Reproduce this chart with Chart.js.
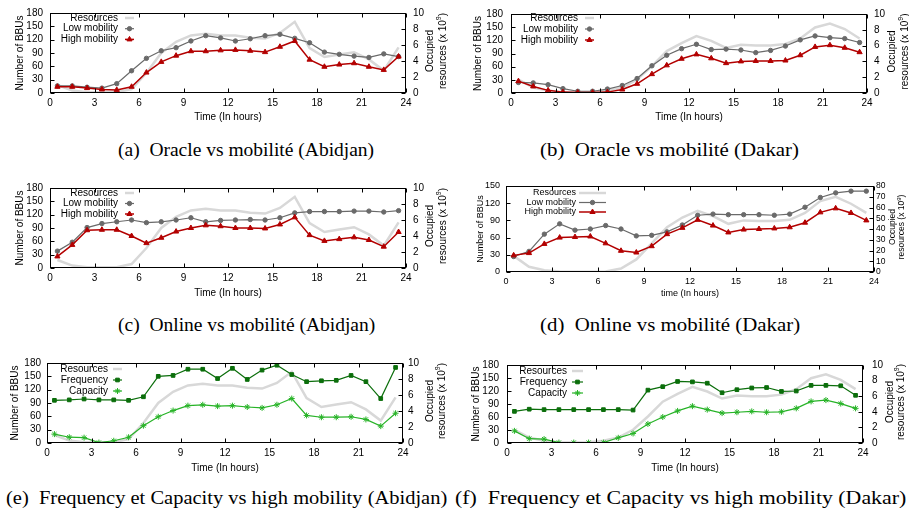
<!DOCTYPE html>
<html>
<head>
<meta charset="utf-8">
<script src="https://cdn.jsdelivr.net/npm/chart.js@4.4.1/dist/chart.umd.min.js"></script>
<style>
  body { margin: 0; width: 909px; height: 517px; background: #fff; overflow: hidden; position: relative; }
  canvas { position: absolute; }
  .cap { position: absolute; font-family: "Liberation Serif", "Times New Roman", serif; font-size: 19.5px; line-height: 20px; white-space: pre; color: #000; transform-origin: left center; }
</style>
</head>
<body>
<canvas id="ca"></canvas>
<canvas id="cb"></canvas>
<canvas id="cc"></canvas>
<canvas id="cd"></canvas>
<canvas id="ce"></canvas>
<canvas id="cf"></canvas>
<div class="cap" style="left:118px; top:140px;">(a)  Oracle vs mobilité (Abidjan)</div>
<div class="cap" style="left:540px; top:140px; transform: scaleX(1.07);">(b)  Oracle vs mobilité (Dakar)</div>
<div class="cap" style="left:118px; top:315px;">(c)  Online vs mobilité (Abidjan)</div>
<div class="cap" style="left:540px; top:315px; transform: scaleX(1.07);">(d)  Online vs mobilité (Dakar)</div>
<div class="cap" style="left:6px; top:488px; transform: scaleX(1.05);">(e)  Frequency et Capacity vs high mobility (Abidjan)</div>
<div class="cap" style="left:455px; top:488px; transform: scaleX(1.12);">(f)  Frequency et Capacity vs high mobility (Dakar)</div>
<script>
// ---- data ----
const hours = [0.5, 1.5, 2.5, 3.5, 4.5, 5.5, 6.5, 7.5, 8.5, 9.5, 10.5, 11.5,
               12.5, 13.5, 14.5, 15.5, 16.5, 17.5, 18.5, 19.5, 20.5, 21.5, 22.5, 23.5];
const xTicks = [0, 3, 6, 9, 12, 15, 18, 21, 24];
const bbuTicks = [0, 30, 60, 90, 120, 150, 180];
const bbuTicksD = [0, 30, 60, 90, 120, 150];
const resTicks = [0, 2, 4, 6, 8, 10];
const resTicksD = [0, 10, 20, 30, 40, 50, 60, 70, 80];

// occupied resources (x 10^9)
const resAbidjan = [1.0, 0.3, 0.1, 0.1, 0.1, 0.5, 2.5, 5.0, 6.4, 7.2, 7.4, 7.2,
                    7.2, 6.9, 6.8, 7.5, 8.9, 5.6, 4.5, 4.8, 5.1, 4.2, 2.8, 5.7];
const resDakar = [1.7, 0.7, 0.3, 0.1, 0.05, 0.1, 0.3, 0.7, 1.7, 3.4, 5.3, 6.3,
                  7.2, 6.6, 5.7, 6.1, 6.0, 6.0, 6.2, 6.9, 8.3, 8.8, 8.1, 6.9];
const resDakarOnline = [15, 4.8, 1.6, 0.5, 0.3, 0.3, 0.5, 3.2, 11.7, 26.7, 41.6, 50.7,
                        57, 52, 44.8, 48, 47.5, 47.5, 48.5, 55, 66, 70, 63.5, 55];

// (a) oracle Abidjan
const lowOracleAbidjan = [16, 16, 13, 11, 21, 50, 78, 95, 102, 117, 129, 124,
                          117, 122, 129, 132, 123, 113, 92, 87, 83, 80, 88, 82];
const highOracleAbidjan = [14, 14, 11, 8, 7, 14, 46, 70, 84, 94, 94, 96,
                           97, 95, 92, 104, 117, 75, 59, 64, 67, 59, 52, 82];
// (b) oracle Dakar
const lowOracleDakar = [24, 23, 19, 10, 4, 4, 9, 17, 33, 62, 86, 101,
                        111, 99, 100, 98, 92, 97, 107, 121, 130, 126, 124, 115];
const highOracleDakar = [27, 15, 6, 2, 1, 1, 2, 8, 21, 43, 63, 78,
                         88, 79, 68, 72, 73, 73, 74, 86, 105, 109, 103, 93];
// (c) online Abidjan
const lowOnlineAbidjan = [38, 58, 91, 100, 104, 108, 102, 104, 108, 113, 104, 107,
                          108, 109, 108, 113, 124, 127, 127, 127, 128, 128, 126, 129];
const highOnlineAbidjan = [26, 52, 85, 86, 86, 72, 56, 68, 82, 90, 96, 94,
                           90, 90, 89, 98, 114, 74, 61, 65, 69, 63, 48, 81];
// (d) online Dakar
const lowOnlineDakar = [27, 36, 66, 84, 73, 75, 81, 75, 63, 64, 70, 82,
                        99, 101, 100, 100, 100, 99, 101, 113, 130, 138, 141, 141];
const highOnlineDakar = [29, 33, 49, 60, 61, 62, 50, 37, 34, 45, 66, 77,
                         91, 81, 69, 74, 75, 76, 78, 86, 104, 111, 103, 90];
// (e) frequency / capacity Abidjan
const freqAbidjan = [96, 97, 99, 97, 97, 96, 104, 150, 152, 166, 166, 145,
                     168, 143, 164, 175, 154, 138, 140, 141, 152, 138, 100, 170];
const capAbidjan = [20, 13, 12, 1, 5, 13, 39, 59, 73, 84, 86, 83,
                    84, 81, 79, 86, 100, 62, 58, 58, 59, 53, 38, 67];
// (f) frequency / capacity Dakar
const freqDakar = [73, 78, 77, 77, 77, 77, 77, 77, 76, 122, 130, 142,
                   141, 138, 116, 123, 127, 128, 119, 120, 133, 133, 132, 110];
const capDakar = [28, 10, 9, 1, 1, 1, 1, 12, 22, 44, 60, 74,
                  85, 77, 69, 71, 73, 71, 72, 80, 96, 99, 91, 80];

// ---- styles ----
const FONT = '"Liberation Sans", Arial, Helvetica, sans-serif';
Chart.defaults.font.family = FONT;
Chart.defaults.font.size = 10;
Chart.defaults.color = '#000';

const pts = arr => hours.map((h, i) => ({ x: h, y: arr[i] }));

function resources(arr) {
  return { label: 'Resources', data: pts(arr), yAxisID: 'y2', borderColor: '#d8d8d8',
           borderWidth: 2.5, pointRadius: 0, order: 5 };
}
function series(label, arr, color, style, radius, width, order) {
  return { label: label, data: pts(arr), yAxisID: 'y', borderColor: color, backgroundColor: color,
           borderWidth: width, pointStyle: style, pointRadius: radius, pointBorderWidth: 1,
           pointBackgroundColor: color, pointBorderColor: color, order: order };
}
const LOW = '#6a6a6a', HIGH = '#b30000', FREQ = '#0b6e0b', CAP = '#27b327';

// draws the box, inward tick marks, key and the right-hand title
const framePlugin = {
  id: 'frame',
  afterDraw(chart, args, o) {
    const { ctx, chartArea: a, scales } = chart;
    const L = Math.round(a.left) + 0.5, R = Math.round(a.right) - 0.5;
    const T = Math.round(a.top) + 0.5, B = Math.round(a.bottom) - 0.5;
    ctx.save();
    ctx.strokeStyle = '#000';
    ctx.lineWidth = 1;
    ctx.strokeRect(L, T, R - L, B - T);
    const tl = 4;
    ctx.beginPath();
    scales.x.ticks.forEach(t => {
      const px = Math.round(scales.x.getPixelForValue(t.value)) + 0.5;
      ctx.moveTo(px, B); ctx.lineTo(px, B - tl);
      ctx.moveTo(px, T); ctx.lineTo(px, T + tl);
    });
    scales.y.ticks.forEach(t => {
      const py = Math.round(scales.y.getPixelForValue(t.value)) + 0.5;
      ctx.moveTo(L, py); ctx.lineTo(L + tl, py);
    });
    scales.y2.ticks.forEach(t => {
      const py = Math.round(scales.y2.getPixelForValue(t.value)) + 0.5;
      ctx.moveTo(R, py); ctx.lineTo(R - tl, py);
    });
    ctx.stroke();

    // key
    const k = o.key;
    ctx.font = k.size + 'px ' + FONT;
    ctx.textAlign = 'right';
    ctx.textBaseline = 'middle';
    chart.data.datasets.forEach((ds, i) => {
      const y = a.top + k.y + i * k.dy;
      const x = a.left + k.x;
      ctx.fillStyle = '#000';
      ctx.fillText(ds.label, x, y);
      const x0 = x + k.gap, x1 = x0 + k.len;
      ctx.strokeStyle = ds.borderColor;
      ctx.lineWidth = ds.borderWidth;
      ctx.beginPath(); ctx.moveTo(x0, y); ctx.lineTo(x1, y); ctx.stroke();
      if (ds.pointRadius > 0) {
        ctx.fillStyle = ds.pointBackgroundColor;
        ctx.strokeStyle = ds.pointBorderColor;
        ctx.lineWidth = ds.pointBorderWidth;
        Chart.helpers.drawPoint(ctx, { pointStyle: ds.pointStyle, radius: ds.pointRadius,
          rotation: 0, borderWidth: ds.pointBorderWidth }, (x0 + x1) / 2, y);
      }
    });

    // right title, reading bottom to top
    const r = o.rtitle;
    const cy = (a.top + a.bottom) / 2 - 2;
    const f = r.size + 'px ' + FONT, fs = Math.round(r.size * 0.7) + 'px ' + FONT;
    ctx.fillStyle = '#000';
    ctx.textBaseline = 'middle';
    ctx.textAlign = 'center';
    ctx.save();
    ctx.translate(a.right + r.x1, cy);
    ctx.rotate(-Math.PI / 2);
    ctx.font = f;
    ctx.fillText('Occupied', 0, 0);
    ctx.restore();
    ctx.save();
    ctx.translate(a.right + r.x2, cy);
    ctx.rotate(-Math.PI / 2);
    ctx.font = f;
    const s1 = 'resources (x 10', s3 = ')';
    const w1 = ctx.measureText(s1).width, w3 = ctx.measureText(s3).width;
    ctx.font = fs;
    const w2 = ctx.measureText('9').width;
    let sx = -(w1 + w2 + w3) / 2;
    ctx.textAlign = 'left';
    ctx.font = f;
    ctx.fillText(s1, sx, 0);
    ctx.font = fs;
    ctx.fillText('9', sx + w1, -r.size * 0.35);
    ctx.font = f;
    ctx.fillText(s3, sx + w1 + w2, 0);
    ctx.restore();
    ctx.restore();
  }
};

function makeChart(id, p) {
  const cv = document.getElementById(id);
  cv.width = p.w; cv.height = p.h;
  cv.style.left = p.left + 'px'; cv.style.top = p.top + 'px';
  const yt = p.yTicks, rt = p.rTicks;
  return new Chart(cv, {
    type: 'line',
    data: { datasets: p.datasets },
    plugins: [framePlugin],
    options: {
      responsive: false,
      animation: false,
      events: [],
      layout: { padding: { top: p.padTop, left: 0, right: 0, bottom: 0 } },
      plugins: {
        legend: { display: false },
        tooltip: { enabled: false },
        frame: { key: p.key, rtitle: p.rtitle }
      },
      scales: {
        x: {
          type: 'linear', min: xTicks[0], max: xTicks[xTicks.length - 1],
          ticks: { stepSize: xTicks[1] - xTicks[0], autoSkip: false, maxRotation: 0,
                   padding: p.xPad, font: { size: p.fs } },
          grid: { display: false, drawTicks: false }, border: { display: false },
          title: { display: true, text: p.xTitle, font: { size: p.fs }, padding: { top: 0, bottom: p.xtPad } },
          afterFit: s => { s.height = p.bottomH; }
        },
        y: {
          position: 'left', min: yt[0], max: yt[yt.length - 1],
          ticks: { stepSize: yt[1] - yt[0], autoSkip: false, padding: p.yPad, font: { size: p.fs } },
          grid: { display: false, drawTicks: false }, border: { display: false },
          title: { display: true, text: 'Number of BBUs', font: { size: p.fs }, padding: { top: p.ytPad, bottom: 0 } },
          afterFit: s => { s.width = p.leftW; }
        },
        y2: {
          position: 'right', min: rt[0], max: rt[rt.length - 1],
          ticks: { stepSize: rt[1] - rt[0], autoSkip: false, padding: p.rPad, font: { size: p.rfs || p.fs } },
          grid: { display: false, drawTicks: false }, border: { display: false },
          afterFit: s => { s.width = p.rightW; }
        }
      }
    }
  });
}

const base = { fs: 10, xPad: 4, yPad: 7, rPad: 7, bottomH: 37, padTop: 13, leftW: 50,
               xTitle: 'Time (In hours)', yTicks: bbuTicks, rTicks: resTicks };

makeChart('ca', Object.assign({}, base, {
  left: 0, top: 0, w: 456, h: 130, rightW: 50, ytPad: 14, xtPad: 7,
  key: { x: 68, y: 5, dy: 10.7, gap: 7, len: 9, size: 10 }, rtitle: { x1: 24, x2: 37, size: 10 },
  datasets: [resources(resAbidjan),
             series('Low mobility', lowOracleAbidjan, LOW, 'circle', 2.2, 1.2, 2),
             series('High mobility', highOracleAbidjan, HIGH, 'triangle', 3, 1.5, 1)]
}));

makeChart('cb', Object.assign({}, base, {
  left: 461, top: 0, w: 448, h: 130, rightW: 42, ytPad: 11, xtPad: 7, yPad: 8,
  key: { x: 67, y: 4, dy: 11, gap: 7, len: 9, size: 10 }, rtitle: { x1: 25, x2: 38, size: 10 },
  datasets: [resources(resDakar),
             series('Low mobility', lowOracleDakar, LOW, 'circle', 2.2, 1.2, 2),
             series('High mobility', highOracleDakar, HIGH, 'triangle', 3, 1.5, 1)]
}));

makeChart('cc', Object.assign({}, base, {
  left: 0, top: 175, w: 456, h: 130, rightW: 50, ytPad: 14, xtPad: 6,
  key: { x: 68, y: 5, dy: 10.5, gap: 7, len: 9, size: 10 }, rtitle: { x1: 24, x2: 37, size: 10 },
  datasets: [resources(resAbidjan),
             series('Low mobility', lowOnlineAbidjan, LOW, 'circle', 2.2, 1.2, 2),
             series('High mobility', highOnlineAbidjan, HIGH, 'triangle', 3, 1.5, 1)]
}));

makeChart('cd', Object.assign({}, base, {
  left: 456, top: 173, w: 453, h: 136, rightW: 35, fs: 9, rfs: 8.5, ytPad: 19, xtPad: 10, yPad: 6, rPad: 2,
  xTitle: 'time (In hours)', yTicks: bbuTicksD, rTicks: resTicksD,
  key: { x: 70, y: 7, dy: 9.5, gap: 3, len: 27, size: 9 }, rtitle: { x1: 19, x2: 28, size: 8.5 },
  datasets: [resources(resDakarOnline),
             series('Low mobility', lowOnlineDakar, LOW, 'circle', 2.2, 1.2, 2),
             series('High mobility', highOnlineDakar, HIGH, 'triangle', 3, 1.5, 1)]
}));

makeChart('ce', Object.assign({}, base, {
  left: 0, top: 350, w: 453, h: 130, leftW: 47, rightW: 50, ytPad: 9, xtPad: 6, yPad: 6, rPad: 5,
  key: { x: 61, y: 6, dy: 11, gap: 5, len: 9, size: 10 }, rtitle: { x1: 27, x2: 39, size: 10 },
  datasets: [resources(resAbidjan),
             series('Frequency', freqAbidjan, FREQ, 'rect', 2.6, 1.2, 2),
             series('Capacity', capAbidjan, CAP, 'star', 3, 1.2, 1)]
}));

makeChart('cf', Object.assign({}, base, {
  left: 457, top: 350, w: 452, h: 130, rightW: 46, ytPad: 13, xtPad: 6, yPad: 8, rPad: 9,
  key: { x: 60, y: 6, dy: 11, gap: 5, len: 11, size: 10 }, rtitle: { x1: 27, x2: 38, size: 10 },
  datasets: [resources(resDakar),
             series('Frequency', freqDakar, FREQ, 'rect', 2.6, 1.2, 2),
             series('Capacity', capDakar, CAP, 'star', 3, 1.2, 1)]
}));
</script>
</body>
</html>
